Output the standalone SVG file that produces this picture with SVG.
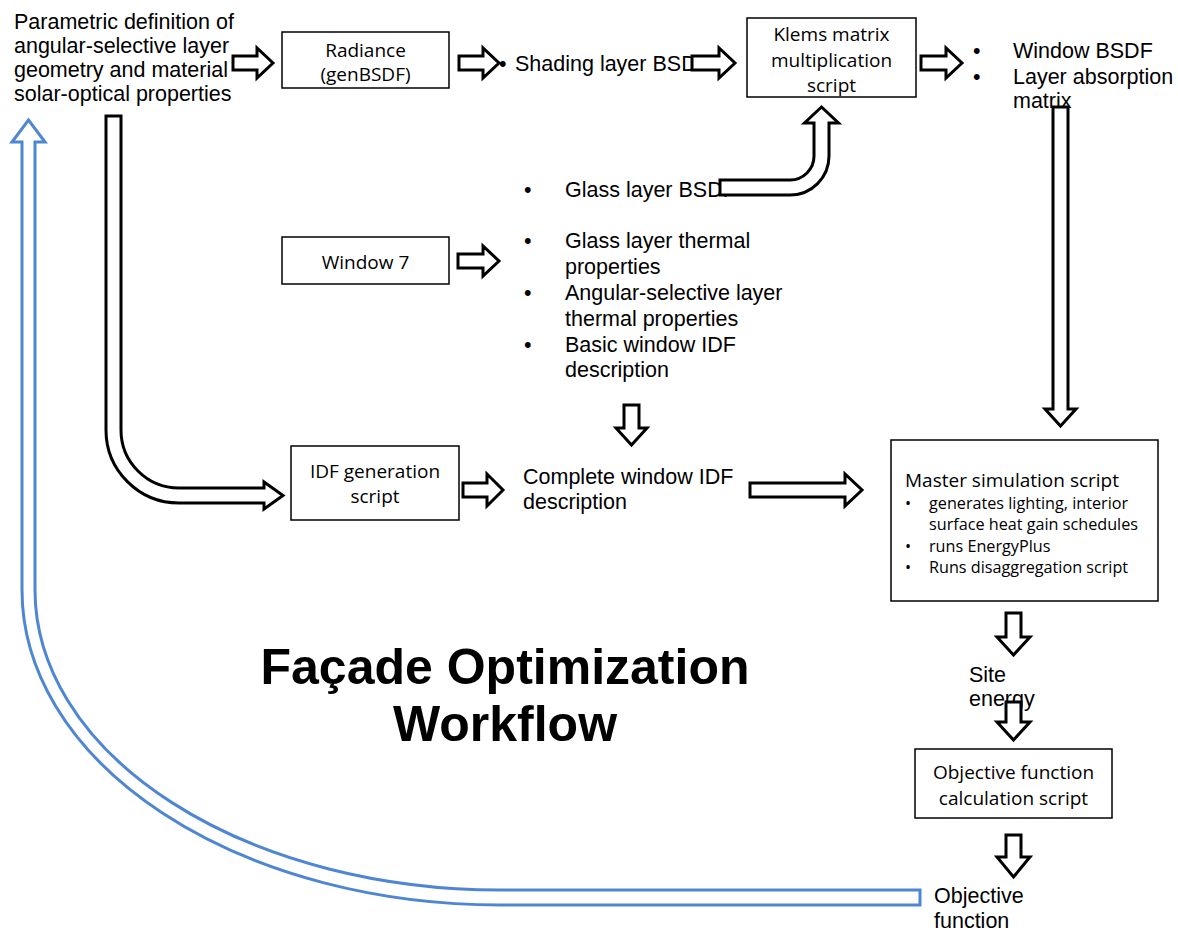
<svg xmlns="http://www.w3.org/2000/svg" width="1178" height="932" viewBox="0 0 1178 932">
<style>
.a{font-family:"Liberation Sans",Arial,sans-serif;font-size:21.5px;fill:#000}
.b{font-family:"Open Sans","Noto Sans",sans-serif;font-size:19px;fill:#000}
.s{font-family:"Open Sans","Noto Sans",sans-serif;font-size:16.2px;fill:#000}
.t{font-family:"Liberation Sans",Arial,sans-serif;font-size:50px;font-weight:bold;fill:#000}
.box{fill:#fff;stroke:#000;stroke-width:1.5}
.arr{fill:#fff;stroke:#000;stroke-width:3;stroke-linejoin:miter}
.blue{fill:#fff;stroke:#4f86d4;stroke-width:3}
</style>
<rect width="1178" height="932" fill="#fff"/>

<g id="title">
<text class="t" x="505" y="684" text-anchor="middle">Façade Optimization</text>
<text class="t" x="505" y="741" text-anchor="middle">Workflow</text>
</g>

<g id="param">
<text class="a" x="14" y="29">Parametric definition of</text>
<text class="a" x="14" y="53">angular-selective layer</text>
<text class="a" x="14" y="77">geometry and material</text>
<text class="a" x="14" y="101">solar-optical properties</text>
</g>

<g id="radiance">
<rect class="box" x="282" y="32" width="167" height="56"/>
<text class="b" x="365.5" y="57" text-anchor="middle">Radiance</text>
<text class="b" x="365.5" y="81" text-anchor="middle">(genBSDF)</text>
</g>

<g id="shading">
<text class="a" x="499" y="71">•</text>
<text class="a" x="515" y="71">Shading layer BSDF</text>
</g>

<g id="klems">
<rect class="box" x="747" y="18" width="169" height="79"/>
<text class="b" x="831.5" y="41" text-anchor="middle">Klems matrix</text>
<text class="b" x="831.5" y="67" text-anchor="middle">multiplication</text>
<text class="b" x="831.5" y="92" text-anchor="middle">script</text>
</g>

<g id="windowbsdf">
<text class="a" x="973" y="58">•</text>
<text class="a" x="1013" y="58">Window BSDF</text>
<text class="a" x="973" y="84">•</text>
<text class="a" x="1013" y="84">Layer absorption</text>
<text class="a" x="1013" y="108">matrix</text>
</g>

<g id="window7">
<rect class="box" x="282" y="237" width="167" height="47"/>
<text class="b" x="365.5" y="269" text-anchor="middle">Window 7</text>
</g>

<g id="glasslist">
<text class="a" x="524" y="197">•</text>
<text class="a" x="565" y="197">Glass layer BSDF</text>
<text class="a" x="524" y="248">•</text>
<text class="a" x="565" y="248">Glass layer thermal</text>
<text class="a" x="565" y="274">properties</text>
<text class="a" x="524" y="300">•</text>
<text class="a" x="565" y="300">Angular-selective layer</text>
<text class="a" x="565" y="326">thermal properties</text>
<text class="a" x="524" y="352">•</text>
<text class="a" x="565" y="352">Basic window IDF</text>
<text class="a" x="565" y="377">description</text>
</g>

<g id="idfgen">
<rect class="box" x="291" y="446" width="168" height="74"/>
<text class="b" x="375" y="478" text-anchor="middle">IDF generation</text>
<text class="b" x="375" y="503" text-anchor="middle">script</text>
</g>

<g id="complete">
<text class="a" x="523" y="484">Complete window IDF</text>
<text class="a" x="523" y="509">description</text>
</g>

<g id="master">
<rect class="box" x="891" y="440" width="267" height="161"/>
<text class="b" x="905" y="487">Master simulation script</text>
<text class="s" x="905" y="509">•</text>
<text class="s" x="929" y="509">generates lighting, interior</text>
<text class="s" x="929" y="530">surface heat gain schedules</text>
<text class="s" x="905" y="552">•</text>
<text class="s" x="929" y="552">runs EnergyPlus</text>
<text class="s" x="905" y="573">•</text>
<text class="s" x="929" y="573">Runs disaggregation script</text>
</g>

<g id="site">
<text class="a" x="969" y="682">Site</text>
<text class="a" x="969" y="706">energy</text>
</g>

<g id="objcalc">
<rect class="box" x="915" y="749" width="197" height="69"/>
<text class="b" x="1013.5" y="779" text-anchor="middle">Objective function</text>
<text class="b" x="1013.5" y="805" text-anchor="middle">calculation script</text>
</g>

<g id="objective">
<text class="a" x="934" y="903">Objective</text>
<text class="a" x="934" y="928">function</text>
</g>

<g id="connectors">
<path class="arr" d="M233,56 L257,56 L257,48 L273,63 L257,78 L257,70 L233,70 Z"/>
<path class="arr" d="M459,56 L483,56 L483,48 L499,63 L483,78 L483,70 L459,70 Z"/>
<path class="arr" d="M692,56 L719,56 L719,48 L735,63 L719,78 L719,70 L692,70 Z"/>
<path class="arr" d="M921,56 L946,56 L946,48 L962,63 L946,78 L946,70 L921,70 Z"/>
<path class="arr" d="M458,254 L483,254 L483,246 L499,261 L483,276 L483,268 L458,268 Z"/>
<path class="arr" d="M463,483 L487,483 L487,474 L503,490 L487,506 L487,497 L463,497 Z"/>
<path class="arr" d="M750,483 L845,483 L845,474 L862,490 L845,506 L845,497 L750,497 Z"/>
<path class="arr" d="M624,405 L639,405 L639,428 L647,428 L631.5,445 L616,428 L624,428 Z"/>
<path class="arr" d="M1006,613 L1021,613 L1021,637 L1030,637 L1013.5,655 L997,637 L1006,637 Z"/>
<path class="arr" d="M1006,702 L1021,702 L1021,722 L1030,722 L1013.5,740 L997,722 L1006,722 Z"/>
<path class="arr" d="M1006,835 L1021,835 L1021,857 L1030,857 L1013.5,877 L997,857 L1006,857 Z"/>
<path class="arr" d="M1053,107 L1068,107 L1068,409 L1076,409 L1060.5,426 L1045,409 L1053,409 Z"/>
<path class="arr" d="M720,195 L790,195 A39,39 0 0 0 829,156 L829,123 L838.5,123 L821.5,107 L804.5,123 L814,123 L814,156 A24,24 0 0 1 790,180 L720,180 Z"/>
<path class="arr" d="M106,116 L121,116 L121,430 A58,58 0 0 0 179,488 L264,488 L264,482 L283,495.5 L264,509 L264,503 L179,503 A73,73 0 0 1 106,430 Z"/>
<path class="blue" d="M22,142 L22,590 A478,315 0 0 0 500,905 L920,905 L920,890 L500,890 A465,300 0 0 1 35,590 L35,142 L45,142 L28.5,120 L12,142 Z"/>
</g>
</svg>
